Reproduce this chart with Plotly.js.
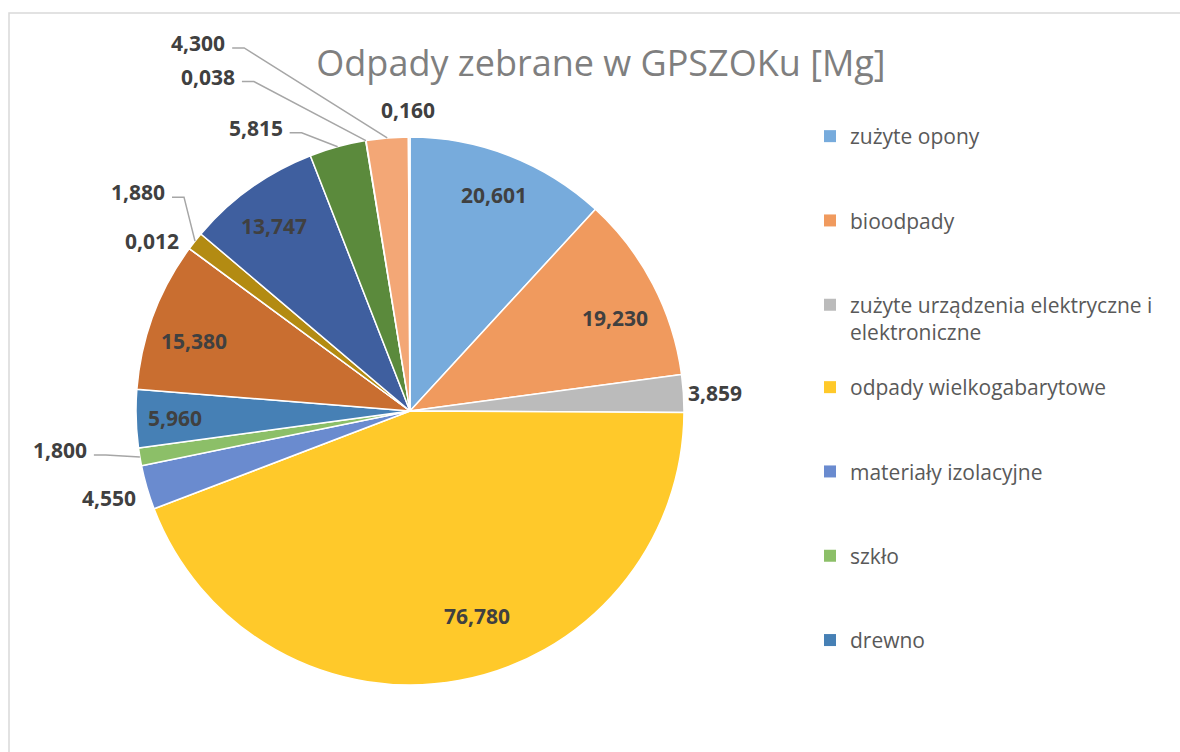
<!DOCTYPE html>
<html>
<head>
<meta charset="utf-8">
<script src="https://cdn.plot.ly/plotly-3.0.1.min.js"></script>
<style>html,body{margin:0;padding:0;background:#fff}#chart{width:1180px;height:752px}</style>
</head>
<body>
<div id="chart"></div>
<script>
// ---- data ----
const chartTitle = 'Odpady zebrane w GPSZOKu [Mg]';
const legendCategories = [
  'zużyte opony',
  'bioodpady',
  'zużyte urządzenia elektryczne i<br>elektroniczne',
  'odpady wielkogabarytowe',
  'materiały izolacyjne',
  'szkło',
  'drewno'
];
const values = [20.601, 19.230, 3.859, 76.780, 4.550, 1.800, 5.960, 15.380, 0.012, 1.880, 13.747, 5.815, 0.038, 4.300, 0.160];

// ---- styles ----
const sliceColors = ['#77ABDC', '#F09A5E', '#BBBBBB', '#FFC92A', '#6A8BCF', '#8CBF68', '#4680B5', '#C96E30',
                     '#7F7F7F', '#B38B12', '#3F5F9F', '#5B8A3C', '#8FBBE3', '#F3A776', '#C8C8C8'];
// label placement per slice: 'in' = polar (radius factor, angle delta), otherwise pixel offset from slice edge
const labelStyle = [
  {mode: 'in', r: 0.846, da: 0},
  {mode: 'in', r: 0.822, da: 3.1},
  {mode: 'out', off: [32, -1], anchor: 'center'},
  {mode: 'in', r: 0.787, da: -7.8},
  {mode: 'out', off: [-38, 11], anchor: 'center'},
  {mode: 'lead', off: [-52, -7], anchor: 'right'},
  {mode: 'in', r: 0.858, da: -0.1},
  {mode: 'in', r: 0.829, da: -2.45},
  {mode: 'out', off: [-9, -8], anchor: 'right'},
  {mode: 'lead', off: [-29, -49], anchor: 'right'},
  {mode: 'in', r: 0.838, da: -0.8},
  {mode: 'lead', off: [-54, -19], anchor: 'right'},
  {mode: 'lead', off: [-130, -64], anchor: 'right'},
  {mode: 'lead', off: [-161, -95], anchor: 'right'},
  {mode: 'out', off: [-1, -27], anchor: 'center'}
];

const W = 1180, H = 752, CX = 410, CY = 411, R = 274;
const px = x => x / W, py = y => 1 - y / H;
const FONT = 'Open Sans, Noto Sans, sans-serif';

const total = values.reduce((a, b) => a + b, 0);
let cum = 0;
const mids = values.map(v => { const m = (cum + v / 2) / total * 360; cum += v; return m; });
const fmt = v => v.toFixed(3).replace('.', ',');

const annotations = [];
const shapes = [];
values.forEach((v, i) => {
  const st = labelStyle[i];
  const a = mids[i] * Math.PI / 180;
  if (st.mode === 'in') {
    const b = (mids[i] + st.da) * Math.PI / 180;
    const x = CX + R * st.r * Math.sin(b), y = CY - R * st.r * Math.cos(b);
    annotations.push({x: px(x), y: py(y), xref: 'paper', yref: 'paper', text: '<b>' + fmt(v) + '</b>',
      showarrow: false, xanchor: 'center', yanchor: 'middle', borderpad: 0,
      font: {family: FONT, size: 21, color: '#404040'}});
  } else {
    const ex = CX + R * Math.sin(a), ey = CY - R * Math.cos(a);
    const lx = ex + st.off[0], ly = ey + st.off[1];
    annotations.push({x: px(lx), y: py(ly), xref: 'paper', yref: 'paper', text: '<b>' + fmt(v) + '</b>',
      showarrow: false, xanchor: st.anchor, yanchor: 'middle', borderpad: 0,
      font: {family: FONT, size: 21, color: '#404040'}});
    if (st.mode === 'lead') {
      const sx = lx + 6, sy = ly + 5, kx = lx + 18;
      shapes.push({type: 'path', xref: 'paper', yref: 'paper',
        path: `M ${px(sx)},${py(sy)} L ${px(kx)},${py(sy)} L ${px(ex)},${py(ey)}`,
        line: {color: '#A6A6A6', width: 1.5}});
    }
  }
});

// chart area border
shapes.push({type: 'rect', xref: 'paper', yref: 'paper', x0: px(9), x1: px(1200), y0: py(13), y1: py(780),
  line: {color: '#D9D9D9', width: 1.5}, fillcolor: 'rgba(0,0,0,0)', layer: 'below'});

const traces = [{
  type: 'pie',
  values: values,
  sort: false,
  direction: 'clockwise',
  rotation: 0,
  textinfo: 'none',
  showlegend: false,
  marker: {colors: sliceColors, line: {color: '#FFFFFF', width: 1.5}},
  domain: {x: [px(CX - R), px(CX + R)], y: [py(CY + R), py(CY - R)]},
  hovertemplate: '%{value:.3f}<extra></extra>'
}];

legendCategories.forEach((name, i) => {
  traces.push({
    type: 'scatter', mode: 'markers', x: [null], y: [null],
    name: name, legendgroup: 'g' + i, legend: i < 3 ? 'legend' : 'legend2',
    marker: {symbol: 'square', size: 12, color: sliceColors[i]},
    hoverinfo: 'skip'
  });
});

const legendBase = {
  xanchor: 'left', yanchor: 'top', bgcolor: 'rgba(0,0,0,0)', borderwidth: 0,
  font: {family: FONT, size: 21, color: '#595959'},
  traceorder: 'grouped', tracegroupgap: 54, valign: 'top'
};

const layout = {
  width: W, height: H,
  margin: {l: 0, r: 0, t: 0, b: 0},
  paper_bgcolor: '#FFFFFF', plot_bgcolor: 'rgba(0,0,0,0)',
  title: {text: chartTitle, x: px(601), xanchor: 'center', y: py(63), yanchor: 'middle',
    font: {family: FONT, size: 36, color: '#7F7F7F'}},
  xaxis: {visible: false}, yaxis: {visible: false},
  showlegend: true,
  legend: Object.assign({}, legendBase, {x: px(810), y: py(136 - 20)}),
  legend2: Object.assign({}, legendBase, {x: px(810), y: py(387 - 20)}),
  annotations: annotations,
  shapes: shapes
};

Plotly.newPlot('chart', traces, layout, {staticPlot: true, displayModeBar: false});
</script>
</body>
</html>
